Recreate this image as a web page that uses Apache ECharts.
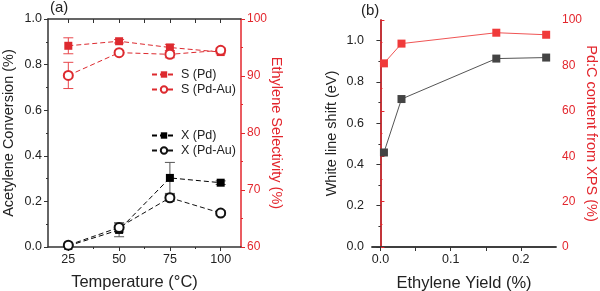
<!DOCTYPE html>
<html>
<head>
<meta charset="utf-8">
<script src="https://cdn.jsdelivr.net/npm/echarts@6/dist/echarts.min.js"></script>
<style>
  html, body { margin: 0; padding: 0; background: #fff; }
  #chart { width: 600px; height: 291px; }
</style>
</head>
<body>
<div id="chart"></div>
<script>
// panel (a)
const temps = [25, 50, 75, 100];
const selPd = [95.3, 96.1, 95.0, 94.2];
const selPdErr = [1.4, 0.3, 0.55, 0.3];
const selPdAu = [90.1, 94.1, 93.8, 94.5];
const selPdAuErr = [2.3, 0.3, 0.6, 0.4];
const convPd = [0.005, 0.075, 0.303, 0.282];
const convPdErr = [0.003, 0.03, 0.068, 0.008];
const convPdAu = [0.008, 0.086, 0.216, 0.149];
const convPdAuErr = [0.003, 0.02, 0.015, 0.01];
const tempTicks = [25, 50, 75, 100];
const tempMinor = [37.5, 62.5, 87.5];

// panel (b)
const yieldVals = [0.005, 0.030, 0.165, 0.236];
const whiteLine = [0.458, 0.717, 0.913, 0.918];
const pdcContent = [80.9, 89.6, 94.4, 93.5];
const yieldTicks = [0, 0.1, 0.2];
const yieldMinor = [0.05, 0.15];
const wlTicks = [0, 0.2, 0.4, 0.6, 0.8, 1.0];
const wlMinor = [0.1, 0.3, 0.5, 0.7, 0.9];

const RED = '#dd2a2f';
const AXRED = '#e3262d';
const DARK = '#333';
const FONT = 'Liberation Sans, Arial, sans-serif';

function pairs(xs, ys) {
    return xs.map((x, i) => [x, ys[i]]);
}

function errData(xs, ys, es) {
    return xs.map((x, i) => [x, ys[i] - es[i], ys[i] + es[i]]);
}

function errSeries(xi, yi, data, color) {
    return {
        type: 'custom',
        xAxisIndex: xi,
        yAxisIndex: yi,
        silent: true,
        z: 1,
        data: data,
        renderItem: function (params, api) {
            const lo = api.coord([api.value(0), api.value(1)]);
            const hi = api.coord([api.value(0), api.value(2)]);
            const w = 5;
            const style = { stroke: color, lineWidth: 1 };
            return {
                type: 'group',
                children: [
                    { type: 'line', shape: { x1: lo[0], y1: lo[1], x2: hi[0], y2: hi[1] }, style: style },
                    { type: 'line', shape: { x1: lo[0] - w, y1: lo[1], x2: lo[0] + w, y2: lo[1] }, style: style },
                    { type: 'line', shape: { x1: hi[0] - w, y1: hi[1], x2: hi[0] + w, y2: hi[1] }, style: style }
                ]
            };
        }
    };
}

const labelStyle = { fontFamily: FONT, fontSize: 12.5, color: '#222' };
const redLabelStyle = { fontFamily: FONT, fontSize: 12, color: AXRED };
const xNameStyle = { fontFamily: FONT, fontSize: 16.5, color: '#222' };
const yNameStyle = { fontFamily: FONT, fontSize: 14.5, color: '#222' };

const chart = echarts.init(document.getElementById('chart'));

const option = {
    animation: false,
    backgroundColor: '#fff',
    grid: [
        { left: 48, top: 19, width: 193, height: 228, outerBoundsMode: 'none' },
        { left: 372, top: 20, width: 184, height: 227, outerBoundsMode: 'none' }
    ],
    graphic: [
        { type: 'text', left: 50, top: 0, style: { text: '(a)', font: '15px ' + FONT, fill: '#222' } },
        { type: 'text', left: 361, top: 3, style: { text: '(b)', font: '15px ' + FONT, fill: '#222' } }
    ],
    legend: [
        {
            data: ['S (Pd)', 'S (Pd-Au)'],
            orient: 'vertical', left: 146, top: 63,
            itemWidth: 24, itemHeight: 8, itemGap: 2,
            textStyle: { fontFamily: FONT, fontSize: 12.5, color: '#222' }
        },
        {
            data: ['X (Pd)', 'X (Pd-Au)'],
            orient: 'vertical', left: 146, top: 124,
            itemWidth: 24, itemHeight: 8, itemGap: 2,
            textStyle: { fontFamily: FONT, fontSize: 12.5, color: '#222' }
        }
    ],
    xAxis: [
        {
            gridIndex: 0, type: 'value', min: 15, max: 110, position: 'bottom',
            name: 'Temperature (°C)', nameLocation: 'middle', nameGap: 27,
            nameTextStyle: { ...xNameStyle, padding: [0, 20, 0, 0] },
            axisLine: { lineStyle: { color: DARK, width: 1.5 } },
            axisTick: { customValues: tempTicks, length: 4, lineStyle: { color: DARK } },
            axisLabel: { customValues: tempTicks, margin: 6, ...labelStyle },
            splitLine: { show: false }
        },
        {
            gridIndex: 0, type: 'value', min: 15, max: 110, position: 'bottom',
            axisLine: { show: false },
            axisTick: { customValues: tempMinor, length: 2, lineStyle: { color: DARK } },
            axisLabel: { show: false },
            splitLine: { show: false }
        },
        {
            gridIndex: 0, type: 'value', min: 15, max: 110, position: 'top',
            axisLine: { lineStyle: { color: DARK, width: 1.5 } },
            axisTick: { customValues: tempTicks.concat(tempMinor), inside: true, length: 4, lineStyle: { color: DARK } },
            axisLabel: { show: false },
            splitLine: { show: false }
        },
        {
            gridIndex: 1, type: 'value', min: -0.012, max: 0.25, position: 'bottom',
            name: 'Ethylene Yield (%)', nameLocation: 'middle', nameGap: 28, nameTextStyle: xNameStyle,
            axisLine: { lineStyle: { color: DARK, width: 1.5 } },
            axisTick: { customValues: yieldTicks, length: 4, lineStyle: { color: DARK } },
            axisLabel: { customValues: yieldTicks, margin: 6, formatter: v => v.toFixed(1), ...labelStyle },
            splitLine: { show: false }
        },
        {
            gridIndex: 1, type: 'value', min: -0.012, max: 0.25, position: 'bottom',
            axisLine: { show: false },
            axisTick: { customValues: yieldMinor, length: 2, lineStyle: { color: DARK } },
            axisLabel: { show: false },
            splitLine: { show: false }
        },
        {
            gridIndex: 1, type: 'value', min: -0.012, max: 0.25, position: 'top',
            axisLine: { lineStyle: { color: DARK, width: 1.5 } },
            axisTick: { customValues: yieldTicks.concat(yieldMinor), inside: true, length: 4, lineStyle: { color: DARK } },
            axisLabel: { show: false },
            splitLine: { show: false }
        }
    ],
    yAxis: [
        {
            gridIndex: 0, type: 'value', min: 0, max: 1, interval: 0.2, position: 'left',
            name: 'Acetylene Conversion (%)', nameLocation: 'middle', nameGap: 32, nameTextStyle: yNameStyle,
            axisLine: { show: true, lineStyle: { color: DARK, width: 1.5 } },
            axisTick: { show: true, length: 4, lineStyle: { color: DARK } },
            minorTick: { show: true, splitNumber: 2, length: 2, lineStyle: { color: DARK } },
            axisLabel: { margin: 6, formatter: v => v.toFixed(1), ...labelStyle },
            splitLine: { show: false }
        },
        {
            gridIndex: 0, type: 'value', min: 60, max: 100, interval: 10, position: 'right',
            name: 'Ethylene Selectivity (%)', nameLocation: 'middle', nameGap: 27, nameRotate: -90,
            nameMoveOverlap: false,
            nameTextStyle: { ...yNameStyle, color: AXRED },
            axisLine: { show: true, lineStyle: { color: AXRED, width: 1.5 } },
            axisTick: { show: true, length: 4, lineStyle: { color: AXRED } },
            minorTick: { show: true, splitNumber: 2, length: 2, lineStyle: { color: AXRED } },
            axisLabel: { margin: 6, ...redLabelStyle },
            splitLine: { show: false }
        },
        {
            gridIndex: 1, type: 'value', min: 0, max: 1.1, position: 'left',
            name: 'White line shift (eV)', nameLocation: 'middle', nameGap: 33, nameTextStyle: yNameStyle,
            axisLine: { show: true, lineStyle: { color: DARK, width: 1.5 } },
            axisTick: { show: true, customValues: wlTicks, length: 4, lineStyle: { color: DARK } },
            axisLabel: { customValues: wlTicks, margin: 8, formatter: v => v.toFixed(1), ...labelStyle },
            splitLine: { show: false }
        },
        {
            gridIndex: 1, type: 'value', min: 0, max: 1.1, position: 'left',
            axisLine: { show: false },
            axisTick: { show: true, customValues: wlMinor, length: 2, lineStyle: { color: DARK } },
            axisLabel: { show: false },
            splitLine: { show: false }
        },
        {
            gridIndex: 1, type: 'value', min: 0, max: 100, interval: 20, position: 'right',
            name: 'Pd:C content from XPS (%)', nameLocation: 'middle', nameGap: 27, nameRotate: -90,
            nameMoveOverlap: false,
            nameTextStyle: { ...yNameStyle, color: AXRED },
            axisLine: { show: true, lineStyle: { color: AXRED, width: 1.5 } },
            axisTick: { show: true, length: 4, lineStyle: { color: AXRED } },
            minorTick: { show: true, splitNumber: 2, length: 2, lineStyle: { color: AXRED } },
            axisLabel: { margin: 6, ...redLabelStyle },
            splitLine: { show: false }
        }
    ],
    series: [
        errSeries(0, 1, errData(temps, selPd, selPdErr), '#e8474c'),
        errSeries(0, 1, errData(temps, selPdAu, selPdAuErr), '#e8474c'),
        errSeries(0, 0, errData(temps, convPd, convPdErr), '#555'),
        errSeries(0, 0, errData(temps, convPdAu, convPdAuErr), '#555'),
        {
            name: 'S (Pd)', type: 'line', xAxisIndex: 0, yAxisIndex: 1, z: 3,
            data: pairs(temps, selPd),
            symbol: 'rect', symbolSize: 8,
            itemStyle: { color: RED },
            lineStyle: { color: RED, width: 1, type: [5, 3] }
        },
        {
            name: 'S (Pd-Au)', type: 'line', xAxisIndex: 0, yAxisIndex: 1, z: 3,
            data: pairs(temps, selPdAu),
            symbol: 'emptyCircle', symbolSize: 9,
            itemStyle: { color: RED, borderColor: RED, borderWidth: 1 },
            lineStyle: { color: RED, width: 1, type: [5, 3] }
        },
        {
            name: 'X (Pd)', type: 'line', xAxisIndex: 0, yAxisIndex: 0, z: 3,
            data: pairs(temps, convPd),
            symbol: 'rect', symbolSize: 8,
            itemStyle: { color: '#000' },
            lineStyle: { color: '#000', width: 1, type: [5, 3] }
        },
        {
            name: 'X (Pd-Au)', type: 'line', xAxisIndex: 0, yAxisIndex: 0, z: 3,
            data: pairs(temps, convPdAu),
            symbol: 'emptyCircle', symbolSize: 9,
            itemStyle: { color: '#111', borderColor: '#111', borderWidth: 1 },
            lineStyle: { color: '#111', width: 1, type: [5, 3] }
        },
        {
            name: 'White line', type: 'line', xAxisIndex: 3, yAxisIndex: 2, z: 3,
            data: pairs(yieldVals, whiteLine),
            symbol: 'rect', symbolSize: 8,
            itemStyle: { color: '#444' },
            lineStyle: { color: '#555', width: 1 }
        },
        {
            name: 'Pd:C', type: 'line', xAxisIndex: 3, yAxisIndex: 4, z: 3,
            data: pairs(yieldVals, pdcContent),
            symbol: 'rect', symbolSize: 8,
            itemStyle: { color: '#f03a3a' },
            lineStyle: { color: '#f05555', width: 1 }
        }
    ]
};

chart.setOption(option);
</script>
</body>
</html>
